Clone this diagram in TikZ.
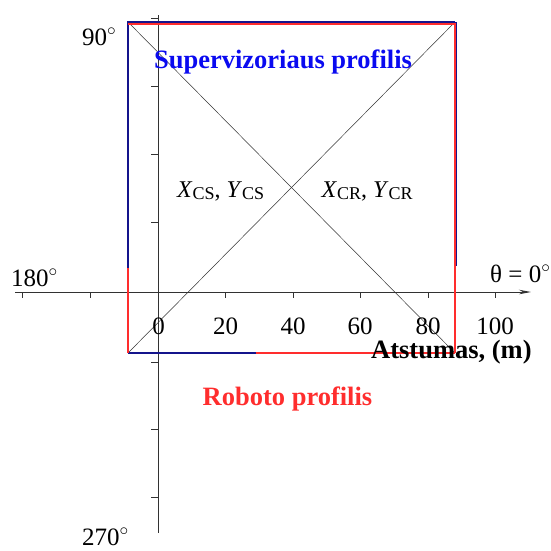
\documentclass[tikz,border=0pt]{standalone}
\usepackage{fontspec}
\setmainfont{Liberation Serif}
\usetikzlibrary{arrows.meta}
\definecolor{navyline}{RGB}{20,20,140}
\definecolor{bluetext}{RGB}{10,10,240}
\definecolor{redline}{RGB}{255,45,45}
\definecolor{axisgray}{RGB}{50,50,50}
\tikzset{
  lab/.style={inner sep=0pt, font=\fontsize{25}{30}\selectfont},
  boldlab/.style={inner sep=0pt, font=\fontsize{26.5}{32}\selectfont\bfseries},
  axisline/.style={draw=axisgray, line width=0.9pt},
  tickline/.style={draw=axisgray, line width=0.8pt},
  diag/.style={draw=black!80, line width=0.5pt},
  blueedge/.style={draw=navyline, line width=2.2pt},
  rededge/.style={draw=redline, line width=2.2pt},
}
\newcommand{\subtxt}[1]{{\fontsize{18}{20}\selectfont\raisebox{-2pt}{#1}}}
\begin{document}
\begin{tikzpicture}[x=1pt,y=-1pt]
\useasboundingbox (0,0) rectangle (551,550);
% axes
\coordinate (xl) at (15,292);
\coordinate (xr) at (531,292);
\coordinate (yt) at (158,15);
\coordinate (yb) at (158,533);
\draw[axisline] (yt) -- (yb);
\draw[axisline, -{Stealth[length=12pt,width=4.5pt]}] (xl) -- (xr);
% ticks
\foreach \tx in {22,90,225.5,293,360,428,495}
  \draw[tickline] (\tx,292) -- (\tx,297.5);
\foreach \ty in {18,86,154,222,362,429,497}
  \draw[tickline] (151,\ty) -- (158,\ty);
% square corners
\coordinate (TL) at (128,22);
\coordinate (TR) at (455,22);
\coordinate (BL) at (128,353);
\coordinate (BR) at (455,353);
\coordinate (Lm) at (128,268);
\coordinate (Bm) at (255.5,353);
\coordinate (Rm) at (456.3,266);
\coordinate (TRb) at (456.3,22);
\coordinate (TLr) at (128,23.6);
\coordinate (TRr) at (455,23.6);
% diagonals
\draw[diag] (TL) -- (BR);
\draw[diag] (BL) -- (TR);
% supervisor profile (blue)
\draw[blueedge] (Lm) -- (TL) -- (TR);
\draw[blueedge] (TRb) -- (Rm);
\draw[blueedge] (BL) -- (Bm);
% robot profile (red)
\draw[rededge] (Lm) -- (BL);
\draw[rededge] (Bm) -- (BR);
\draw[rededge] (TLr) -- (TRr) -- (BR);
% angle labels
\node[lab, anchor=base west] (a90) at (82,45) {90${}^\circ$};
\node[lab, anchor=base west] (a180) at (11,286) {180${}^\circ$};
\node[lab, anchor=base west] (a270) at (82,545) {270${}^\circ$};
\node[lab, anchor=base west] (a0) at (490,282) {θ = 0${}^\circ$};
% distance tick labels
\node[lab, anchor=base] (t0) at (158.5,334) {0};
\node[lab, anchor=base] (t20) at (225.5,334) {20};
\node[lab, anchor=base] (t40) at (293,334) {40};
\node[lab, anchor=base] (t60) at (360,334) {60};
\node[lab, anchor=base] (t80) at (428,334) {80};
\node[lab, anchor=base] (t100) at (495,334) {100};
% titles
\node[boldlab, anchor=base, text=bluetext] (sup) at (283,68) {Supervizoriaus profilis};
\node[boldlab, anchor=base, text=redline] (rob) at (287.5,405) {Roboto profilis};
\node[boldlab, anchor=base west] (dist) at (371,358) {Atstumas, (m)};
% centre labels
\node[lab, anchor=base west, font=\fontsize{24}{28}\selectfont] (cs) at (177,197) {\textit{X}\subtxt{CS}, \textit{Y}\subtxt{CS}};
\node[lab, anchor=base west, font=\fontsize{24}{28}\selectfont] (cr) at (321.5,197) {\textit{X}\subtxt{CR}, \textit{Y}\subtxt{CR}};
\end{tikzpicture}
\end{document}
